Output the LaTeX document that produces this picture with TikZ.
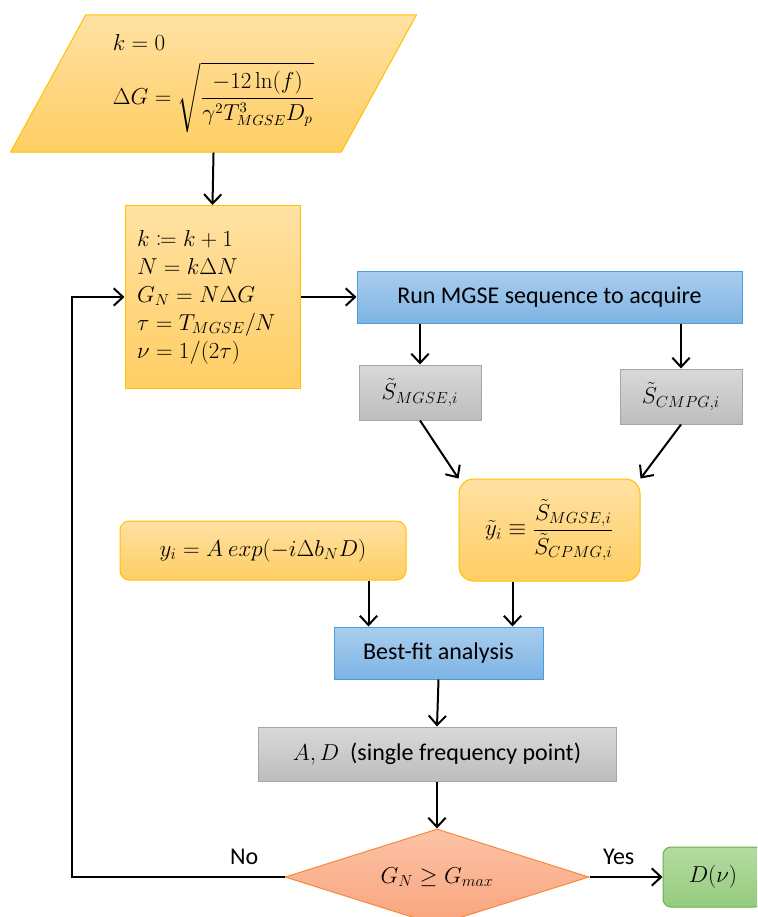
\documentclass[tikz,border=0pt]{standalone}
\usepackage{amsmath}
\usepackage{mathtools}
\usepackage[no-math]{fontspec}
\setmainfont{Carlito}
\usetikzlibrary{shapes.geometric,arrows.meta,positioning}

\definecolor{ylwtop}{HTML}{FFE1A3}
\definecolor{ylwbot}{HTML}{FFCE63}
\definecolor{ylwline}{HTML}{FFC000}
\definecolor{bluetop}{HTML}{AACDEE}
\definecolor{bluebot}{HTML}{7DB4E4}
\definecolor{blueline}{HTML}{4A9EDB}
\definecolor{graytop}{HTML}{D9D9D9}
\definecolor{graybot}{HTML}{BDBDBD}
\definecolor{grayline}{HTML}{A5A5A5}
\definecolor{redtop}{HTML}{FCC3A6}
\definecolor{redbot}{HTML}{F9A47C}
\definecolor{redline}{HTML}{F58A3C}
\definecolor{grntop}{HTML}{B5DBA2}
\definecolor{grnbot}{HTML}{95CB7E}
\definecolor{grnline}{HTML}{6AB14A}

\tikzset{
  flow/.style={-{Straight Barb[length=7pt,width=13pt]}, line width=1.5pt},
  ylwbox/.style={draw=ylwline, line width=0.75pt, top color=ylwtop, bottom color=ylwbot},
  bluebox/.style={draw=blueline, line width=0.75pt, top color=bluetop, bottom color=bluebot},
  graybox/.style={draw=grayline, line width=0.75pt, top color=graytop, bottom color=graybot},
  txt/.style={font=\fontsize{18}{21}\selectfont},
  every node/.style={font=\fontsize{17}{21}\selectfont}
}

\begin{document}
\begin{tikzpicture}[x=0.75pt,y=-0.75pt]
\useasboundingbox (0,0) rectangle (757,917);
\clip (0,0) rectangle (757,917);

% start values
\node[ylwbox, trapezium, trapezium left angle=60, trapezium right angle=120,
  trapezium stretches=true, minimum width=305.25pt, minimum height=102.75pt,
  align=left, font=\fontsize{16}{19}\selectfont] (init) at (213.5,83.5)
  {$k = 0$\\[8pt] $\Delta G = \sqrt{\dfrac{-12\ln(f)}{\gamma^2 T_{MGSE}^3 D_p}}$};

% loop update
\node[ylwbox, minimum width=131.25pt, minimum height=137.25pt, text width=113.25pt,
  inner xsep=9pt, align=left] (update) at (212.5,297)
  {$k \coloneqq k+1$\\ $N = k\Delta N$\\ $G_N = N\Delta G$\\
   $\tau = T_{MGSE}/N$\\ $\nu = 1/(2\tau)$};

\node[bluebox, txt, minimum width=288.75pt, minimum height=39pt] (acquire) at (549.5,297)
  {Run MGSE sequence to acquire};
\node[graybox, minimum width=91.5pt, minimum height=41.25pt] (smgse) at (420,392.5)
  {$\tilde{S}_{MGSE,i}$};
\node[graybox, minimum width=91.5pt, minimum height=41.25pt] (scmpg) at (681,396.5)
  {$\tilde{S}_{CMPG,i}$};
\node[ylwbox, rounded corners=11pt, minimum width=135.75pt, minimum height=76.5pt]
  (ratio) at (549.5,530)
  {$\tilde{y}_i \equiv \dfrac{\tilde{S}_{MGSE,i}}{\tilde{S}_{CPMG,i}}$};
\node[ylwbox, rounded corners=7pt, minimum width=214.5pt, minimum height=44.25pt]
  (model) at (263,550.5) {$y_i = A\ exp(-i\Delta b_N D)$};
\node[bluebox, txt, minimum width=156.75pt, minimum height=39pt] (fit) at (438.5,653)
  {Best-fit analysis};
\node[graybox, txt, minimum width=268.5pt, minimum height=40.5pt] (result) at (437,754)
  {$A, D$\ \ (single frequency point)};
\node[diamond, aspect=3.17, draw=redline, line width=0.75pt, top color=redtop,
  bottom color=redbot, inner sep=0pt, minimum width=228pt, minimum height=72pt]
  (check) at (437,877) {$G_N \geq G_{max}$};
\node[draw=grnline, line width=0.75pt, top color=grntop, bottom color=grnbot,
  rounded corners=6pt, minimum width=75pt, minimum height=45pt] (final) at (713,877)
  {$D(\nu)$};
\coordinate (loop) at (72,877);

% connectors
\draw[flow] (init.south) -- (update.north);
\draw[flow] (update.east) -- (acquire.west);
\draw[flow] (smgse.north |- acquire.south) -- (smgse.north);
\draw[flow] (scmpg.north |- acquire.south) -- (scmpg.north);
\draw[flow] (smgse.south) -- (ratio.north west);
\draw[flow] (scmpg.south) -- (ratio.north east);
\draw[flow] ([xshift=26.25pt]fit.north west |- model.south) -- ([xshift=26.25pt]fit.north west);
\draw[flow] ([xshift=-23.25pt]fit.north east |- ratio.south) -- ([xshift=-23.25pt]fit.north east);
\draw[flow] (fit.south) -- (result.north);
\draw[flow] (result.south) -- (check.north);
\draw[flow] (check.east) -- node[txt, above=5pt, pos=0.4] {Yes} (final.west);
\draw[flow] (check.west) -- node[txt, above=5pt, pos=0.19] {No} (loop) |- (update.west);
\end{tikzpicture}
\end{document}
